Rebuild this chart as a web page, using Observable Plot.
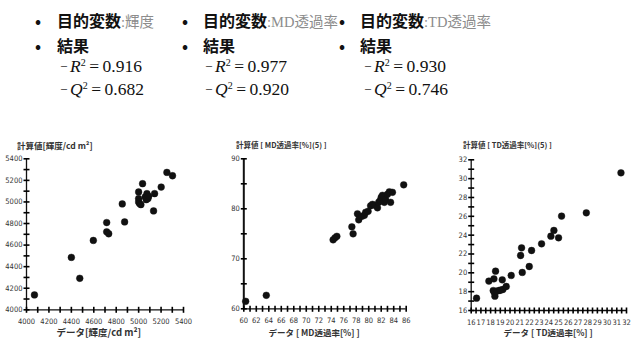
<!DOCTYPE html>
<html>
<head>
<meta charset="utf-8">
<script src="https://cdn.jsdelivr.net/npm/d3@7"></script>
<script src="https://cdn.jsdelivr.net/npm/@observablehq/plot@0.6"></script>
<style>
  html, body { margin: 0; padding: 0; background: #fff; }
  #root { position: relative; width: 639px; height: 340px; overflow: hidden; background: #fff; }
  .t { position: absolute; white-space: nowrap; }
  .cjk { font-family: "Noto Sans CJK JP", "Noto Sans", sans-serif; font-size: 16px; line-height: 18px; color: #111; font-weight: 700; }
  .gray { color: #8c8c8c; font-weight: 400; font-size: 14.5px; }
  .serif { font-family: "Liberation Serif", "DejaVu Serif", serif; }
  .stat { font-family: "Liberation Serif", "DejaVu Serif", serif; font-size: 17.5px; line-height: 18px; color: #111; }
  .dash { font-size: 12px; display: inline-block; width: 9px; position: relative; top: -3px; }
  .stat i { font-style: italic; }
  .stat sup { font-size: 10px; vertical-align: 0; position: relative; top: -6px; line-height: 0; }
  .ttl { position: absolute; white-space: nowrap; font-family: "Noto Sans CJK JP", sans-serif; font-weight: 700; color: #333; line-height: 12px; }
  .chartbox { position: absolute; top: 130px; width: 213px; height: 210px; }
</style>
</head>
<body>
<div id="root"></div>
<script>
// ---------- data ----------
const titles = ["輝度", "MD透過率", "TD透過率"];
const r2Values = ["0.916", "0.977", "0.930"];
const q2Values = ["0.682", "0.920", "0.746"];

// chart 1: 輝度 (data vs computed)
const lumX = [4071, 4400, 4475, 4596, 4715, 4715, 4733, 4854, 4875, 5000, 5000, 5000, 5008, 5020, 5035, 5059, 5074, 5083, 5068, 5089, 5133, 5142, 5201, 5252, 5302];
const lumY = [4138, 4486, 4292, 4643, 4809, 4723, 4705, 4982, 4815, 5092, 5031, 5000, 4985, 4975, 5169, 5046, 5077, 5031, 5021, 5052, 4917, 5077, 5138, 5274, 5243];

// chart 2: MD透過率
const mdX = [60.3, 63.6, 74.3, 74.6, 74.9, 77.3, 77.5, 78.2, 78.4, 78.9, 79.3, 79.5, 79.9, 80.3, 80.6, 81.0, 81.4, 81.6, 81.8, 82.0, 82.2, 82.5, 82.7, 83.0, 83.3, 83.5, 83.8, 85.6];
const mdY = [61.5, 62.7, 73.8, 74.2, 74.5, 76.4, 75.0, 79.0, 77.8, 78.5, 78.7, 79.3, 79.5, 80.6, 80.9, 80.7, 80.2, 81.3, 81.6, 82.3, 82.7, 81.3, 81.9, 82.9, 83.4, 81.3, 83.3, 84.8];

// chart 3: TD透過率
const tdX = [16.55, 17.82, 18.34, 18.51, 18.27, 18.44, 18.37, 18.85, 19.20, 19.26, 19.61, 18.60, 19.0, 20.12, 21.09, 21.19, 21.26, 21.98, 22.22, 23.25, 24.21, 24.52, 25.00, 25.31, 27.86, 31.43];
const tdY = [17.31, 19.12, 19.36, 20.18, 18.12, 17.52, 17.95, 18.12, 19.26, 18.23, 18.55, 18.05, 18.15, 19.72, 21.84, 22.65, 20.04, 20.67, 22.37, 23.08, 23.89, 24.50, 23.72, 26.02, 26.37, 30.62];

// axis tick values
const lumXMajor = [4000, 4200, 4400, 4600, 4800, 5000, 5200, 5400];
const lumYMajor = [4000, 4200, 4400, 4600, 4800, 5000, 5200, 5400];
const mdXMajor = [60, 62, 64, 66, 68, 70, 72, 74, 76, 78, 80, 82, 84, 86];
const mdYMajor = [60, 70, 80, 90];
const tdXMajor = [16, 17, 18, 19, 20, 21, 22, 23, 24, 25, 26, 27, 28, 29, 30, 31, 32];
const tdYMajor = [16, 18, 20, 22, 24, 26, 28, 30, 32];

// ---------- header text ----------
const root = document.getElementById("root");
function add(html, cls, left, top) {
  const d = document.createElement("div");
  d.className = "t " + cls;
  d.style.left = left + "px";
  d.style.top = top + "px";
  d.innerHTML = html;
  root.appendChild(d);
  return d;
}
const cols = [
  {bullet: 35, text: 57, dash: 61},
  {bullet: 182, text: 203, dash: 206},
  {bullet: 339, text: 360, dash: 365}
];
cols.forEach((c, i) => {
  add("•", "cjk", c.bullet, 11);
  const t = titles[i];
  const m = t.match(/^([A-Z]*)(.*)$/);
  add("目的変数<span class='gray serif'>:</span><span class='gray'><span class='serif'>" + m[1] + "</span>" + m[2] + "</span>", "cjk", c.text, 11);
  add("•", "cjk", c.bullet, 36);
  add("結果", "cjk", c.text, 36);
  add("<span class='dash'>–</span><i>R</i><sup>2</sup>\u2009=\u20090." + r2Values[i].slice(2), "stat", c.dash, 57);
  add("<span class='dash'>–</span><i>Q</i><sup>2</sup>\u2009=\u20090." + q2Values[i].slice(2), "stat", c.dash, 80);
});

// ---------- scatter plots ----------
function scatter(o) {
  const data = o.xs.map((x, i) => ({x, y: o.ys[i]}));
  const [x0, x1] = o.xDomain, [y0, y1] = o.yDomain;
  const xMinor = d3.range(x0, x1 + 1e-9, o.xMinorStep);
  const yMinor = d3.range(y0, y1 + 1e-9, o.yMinorStep);
  const W = 213, H = 210, HALF = 3;
  // half tick length, converted from pixels to data units through the frame size
  const hx = HALF * (x1 - x0) / (W - o.ml - o.mr);
  const hy = HALF * (y1 - y0) / (H - o.mt - o.mb);
  const p = Plot.plot({
    width: W,
    height: H,
    marginLeft: o.ml, marginRight: o.mr, marginTop: o.mt, marginBottom: o.mb,
    x: {domain: o.xDomain, axis: null},
    y: {domain: o.yDomain, axis: null},
    marks: [
      Plot.ruleY([y0], {y: d => d, stroke: "#111", strokeWidth: 1.3}),
      Plot.ruleX([x0], {x: d => d, stroke: "#111", strokeWidth: o.yAxisWidth}),
      Plot.link(xMinor, {x1: d => d, x2: d => d, y1: () => y0 - hy, y2: () => y0 + hy, stroke: "#000", strokeWidth: 1.6}),
      Plot.link(yMinor, {x1: () => x0 - hx, x2: () => x0 + hx, y1: d => d, y2: d => d, stroke: "#000", strokeWidth: 1.6}),
      Plot.text(o.xMajor, {x: d => d, y: () => y0, text: d => String(d), dy: 12, fontSize: 7.5, fill: "#333", textAnchor: "middle"}),
      Plot.text(o.yMajor, {x: () => x0, y: d => d, text: d => String(d), dx: -4, fontSize: 7.5, fill: "#333", textAnchor: "end"}),
      Plot.dot(data, {x: "x", y: "y", r: 3.4, fill: "#111", stroke: "#111", strokeWidth: 0.4})
    ]
  });
  p.style.fontFamily = "'Liberation Sans Narrow', 'DejaVu Sans Condensed', 'Liberation Sans', sans-serif";
  p.style.background = "transparent";
  const box = document.createElement("div");
  box.className = "chartbox";
  box.style.left = o.left + "px";
  box.appendChild(p);
  root.appendChild(box);
}

scatter({xs: lumX, ys: lumY, xDomain: [4000, 5400], yDomain: [4000, 5400],
  xMinorStep: 100, yMinorStep: 100, xMajor: lumXMajor, yMajor: lumYMajor,
  left: 0, ml: 26, mr: 30, mt: 28.3, mb: 30.7, yAxisWidth: 1.3});
scatter({xs: mdX, ys: mdY, xDomain: [60, 86], yDomain: [60, 90],
  xMinorStep: 1, yMinorStep: 5, xMajor: mdXMajor, yMajor: mdYMajor,
  left: 213, ml: 30.3, mr: 20.3, mt: 28.3, mb: 31.7, yAxisWidth: 2});
scatter({xs: tdX, ys: tdY, xDomain: [16, 32], yDomain: [16, 32],
  xMinorStep: 0.5, yMinorStep: 1, xMajor: tdXMajor, yMajor: tdYMajor,
  left: 426, ml: 44.7, mr: 13, mt: 29.3, mb: 30, yAxisWidth: 1.3});

// ---------- axis titles ----------
function title(text, left, top, size, center) {
  const d = document.createElement("div");
  d.className = "ttl";
  d.style.fontSize = size + "px";
  d.style.top = top + "px";
  d.textContent = text;
  root.appendChild(d);
  if (center) d.style.left = (left - d.offsetWidth / 2) + "px";
  else d.style.left = left + "px";
}
title("計算値[輝度/cd m²]", 17, 139, 8.5, false);
title("データ[輝度/cd m²]", 99, 326, 9.5, true);
title("計算値 [ MD透過率[%](5) ]", 236, 139, 7.5, false);
title("データ [ MD透過率[%] ]", 314, 326, 8.5, true);
title("計算値 [ TD透過率[%](5) ]", 463, 139, 7.5, false);
title("データ [ TD透過率[%] ]", 548, 326, 8.5, true);
</script>
</body>
</html>
